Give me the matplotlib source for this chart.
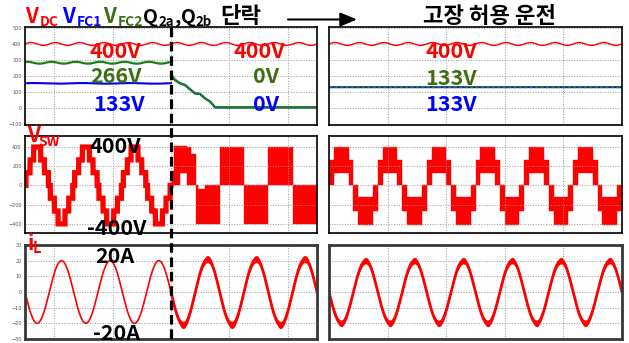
import numpy as np
import matplotlib
matplotlib.use("Agg")
import matplotlib.pyplot as plt
from matplotlib.lines import Line2D
from matplotlib.patches import FancyArrowPatch

W, H = 629, 343
KR = ["Noto Sans CJK KR", "DejaVu Sans"]

RED = "#ff0000"
BLUE = "#0000ff"
GREEN = "#1b7f1b"
OLIVE = "#3c6e12"

# time axis: 100 ms per panel, 6 fundamental periods
PERIOD_MS = 100.0 / 6
FAULT_MS = 50.0

# capacitor voltages (V)
VDC_MEAN = 398
VDC_RIPPLE = 9
VFC1_BEFORE = 152
VFC2_BEFORE = 281
VFC_RIPPLE = [2, 6]                      # fc1, fc2
DROP_MS = [50.0, 51.4, 53.1, 54.8, 56.5, 58.2, 59.9, 61.6, 63.4, 65.1, 100.0]
VFC2_DROP = [210, 173, 152, 142, 115, 90, 86, 59, 38, 2, 2]
VFC1_DROP = [195, 173, 152, 142, 115, 90, 86, 59, 38, 2, 2]
VFC_TOLERANT = [128, 128]                # fc1, fc2

# switch node voltage
VSW_LEVELS = [0, 133, 266, 400]
VSW_THRESH = [0.12, 0.60, 0.90]
# after the short: blocks (start ms, end ms, low V, high V)
POST_START = [50.0, 51.1, 53.1, 55.4, 57.0, 58.4, 59.3, 61.6, 66.7, 75.0, 83.3, 91.7]
POST_END = [51.1, 53.1, 55.4, 57.0, 58.4, 59.3, 61.6, 66.7, 75.0, 83.3, 91.7, 100.0]
POST_LO = [0, 0, 130, 0, 0, 0, -35, 0, 0, 0, 0, 0]
POST_HI = [150, 410, 410, 400, 330, -400, -400, -400, 405, -400, 405, -400]
# fault tolerant operation: one period, fractions of the period
TOL_START = [0.00, 0.10, 0.40, 0.50, 0.60, 0.90]
TOL_END = [0.10, 0.40, 0.50, 0.60, 0.90, 1.00]
TOL_LO = [0, 125, 0, 0, -125, 0]
TOL_HI = [266, 405, 266, -266, -410, -266]

# inductor current (A): normal, after short, fault tolerant
IL_AMP = [20, 21, 20]
IL_BAND = [0.0, 1.8, 1.6]

LEFT_X = (25, 317)
RIGHT_X = (329, 622)
ROWS_Y = [(27, 125), (136, 233), (245, 339)]
YLIMS = [(-108, 504), (-495, 515), (-30, 30)]
YTICKS = [list(range(-100, 501, 100)), list(range(-400, 401, 200)), list(range(-30, 31, 10))]


def rect(x0, y0, x1, y1):
    return [x0 / W, 1 - y1 / H, (x1 - x0) / W, (y1 - y0) / H]


fig = plt.figure(figsize=(W / 100, H / 100), dpi=100)


def label(x, y, s, color="black", size=15.5):
    fig.text(x / W, 1 - y / H, s, fontsize=size, color=color, family=KR,
             fontweight="bold", va="baseline", ha="left", zorder=5)


axes = {}
for r in range(3):
    for side, xs in enumerate([LEFT_X, RIGHT_X]):
        ax = fig.add_axes(rect(xs[0], ROWS_Y[r][0], xs[1], ROWS_Y[r][1]))
        ax.set_xlim(0, 100)
        ax.set_ylim(*YLIMS[r])
        ax.set_yticks(YTICKS[r])
        ax.set_xticks([10, 30, 50, 70, 90] if side == 0 else [20, 40, 60, 80])
        ax.tick_params(length=0, labelbottom=False, labelsize=3.5,
                       labelcolor="#555555", pad=2.5)
        if side == 1:
            ax.tick_params(labelleft=False)
        ax.grid(True, color="#9a9a9a", ls=":", lw=0.7)
        for sp in ax.spines.values():
            if r == 2:
                sp.set_linewidth(2.0)
                sp.set_color("#383838")
            else:
                sp.set_linewidth(1.2)
                sp.set_color("black")
        axes[(r, side)] = ax

t = np.linspace(0, 100, 4001)
theta = 2 * np.pi * t / PERIOD_MS
pre = t <= FAULT_MS
post = t >= FAULT_MS

# ---- capacitor voltages
ax = axes[(0, 0)]
ax.plot(t, VDC_MEAN + VDC_RIPPLE * np.sin(2 * theta), color=RED, lw=1.0)
ax.plot(t[pre], VFC1_BEFORE + VFC_RIPPLE[0] * np.sin(theta[pre] + 0.5), color=BLUE, lw=1.5)
ax.plot(t[pre], VFC2_BEFORE + VFC_RIPPLE[1] * np.sin(2 * theta[pre] + 1.0), color=GREEN, lw=1.6)
ax.plot(DROP_MS, VFC1_DROP, color=BLUE, lw=1.5)
ax.plot(DROP_MS, VFC2_DROP, color=GREEN, lw=1.6)

ax = axes[(0, 1)]
ax.plot(t, VDC_MEAN + VDC_RIPPLE * np.sin(2 * theta), color=RED, lw=1.0)
ax.plot(t, np.full_like(t, VFC_TOLERANT[0]), color=BLUE, lw=1.4)
ax.plot(t, np.full_like(t, VFC_TOLERANT[1]), color=GREEN, lw=1.3, ls=(0, (2, 1)))

# ---- switch node voltage
ax = axes[(1, 0)]
s = np.sin(theta)
idx = np.searchsorted(VSW_THRESH, np.abs(s), side="right")
stair = np.sign(s) * np.array(VSW_LEVELS)[idx]
ax.plot(t[pre], stair[pre], color=RED, lw=3.8, solid_joinstyle="miter")
for a, b, lo, hi in zip(POST_START, POST_END, POST_LO, POST_HI):
    ax.fill_between([a, b], lo, hi, color=RED, lw=0.3)

ax = axes[(1, 1)]
for k in range(6):
    for a, b, lo, hi in zip(TOL_START, TOL_END, TOL_LO, TOL_HI):
        ax.fill_between([(k + a) * PERIOD_MS, (k + b) * PERIOD_MS], lo, hi,
                        color=RED, lw=0.3)

# ---- inductor current
ax = axes[(2, 0)]
ax.plot(t[pre], -IL_AMP[0] * np.sin(theta[pre]), color=RED, lw=1.2)
il = -IL_AMP[1] * np.sin(theta[post])
band = 0.5 + IL_BAND[1] * np.abs(np.sin(theta[post]))
ax.fill_between(t[post], il - band, il + band, color=RED, lw=0)
ax.plot(t[post], il, color=RED, lw=2.0)

ax = axes[(2, 1)]
il = -IL_AMP[2] * np.sin(theta)
band = 0.5 + IL_BAND[2] * np.abs(np.sin(theta))
ax.fill_between(t, il - band, il + band, color=RED, lw=0)
ax.plot(t, il, color=RED, lw=2.0)

# ---- fault instant marker
fig.add_artist(Line2D([171 / W, 171 / W], [1 - 27 / H, 0], transform=fig.transFigure,
                      color="black", lw=2.3, ls=(0, (3, 1.5)), zorder=4))

# ---- header
label(25, 23, "V", RED, 15)
label(40, 25.5, "DC", RED, 10)
label(62, 23, "V", BLUE, 15)
label(76.5, 25.5, "FC1", BLUE, 10)
label(103, 23, "V", OLIVE, 15)
label(117.5, 25.5, "FC2", OLIVE, 10)
label(143.5, 23, "Q", "black", 14)
label(158.5, 25.5, "2a", "black", 9.5)
label(174.5, 23, ",", "black", 14)
label(180.5, 23, "Q", "black", 14)
label(195.5, 25.5, "2b", "black", 9.5)
label(220, 23, "단락", "black", 16)
fig.add_artist(FancyArrowPatch((288 / W, 1 - 19.5 / H), (357 / W, 1 - 19.5 / H),
                               transform=fig.transFigure, color="black", lw=1.5,
                               arrowstyle="-|>,head_length=0.72,head_width=0.3",
                               mutation_scale=14, shrinkA=0, shrinkB=0))
label(423, 23, "고장 허용 운전", "black", 16)

# ---- value annotations
label(90, 57.7, "400V", RED)
label(90, 83.3, "266V", OLIVE)
label(93, 111, "133V", BLUE)
label(233, 57.7, "400V", RED)
label(253, 83.3, "0V", OLIVE)
label(253, 111, "0V", BLUE)
label(425, 58, "400V", RED)
label(425, 85, "133V", OLIVE)
label(425, 111, "133V", BLUE)

label(27, 142, "V", RED, 15)
label(38.5, 145.5, "SW", RED, 10)
label(90, 153, "400V")
label(87, 235, "-400V")

label(28, 250, "i", RED, 15)
label(33, 253, "L", RED, 10.5)
label(95, 263, "20A")
label(93, 340, "-20A")

fig.savefig("out.png", dpi=100)
